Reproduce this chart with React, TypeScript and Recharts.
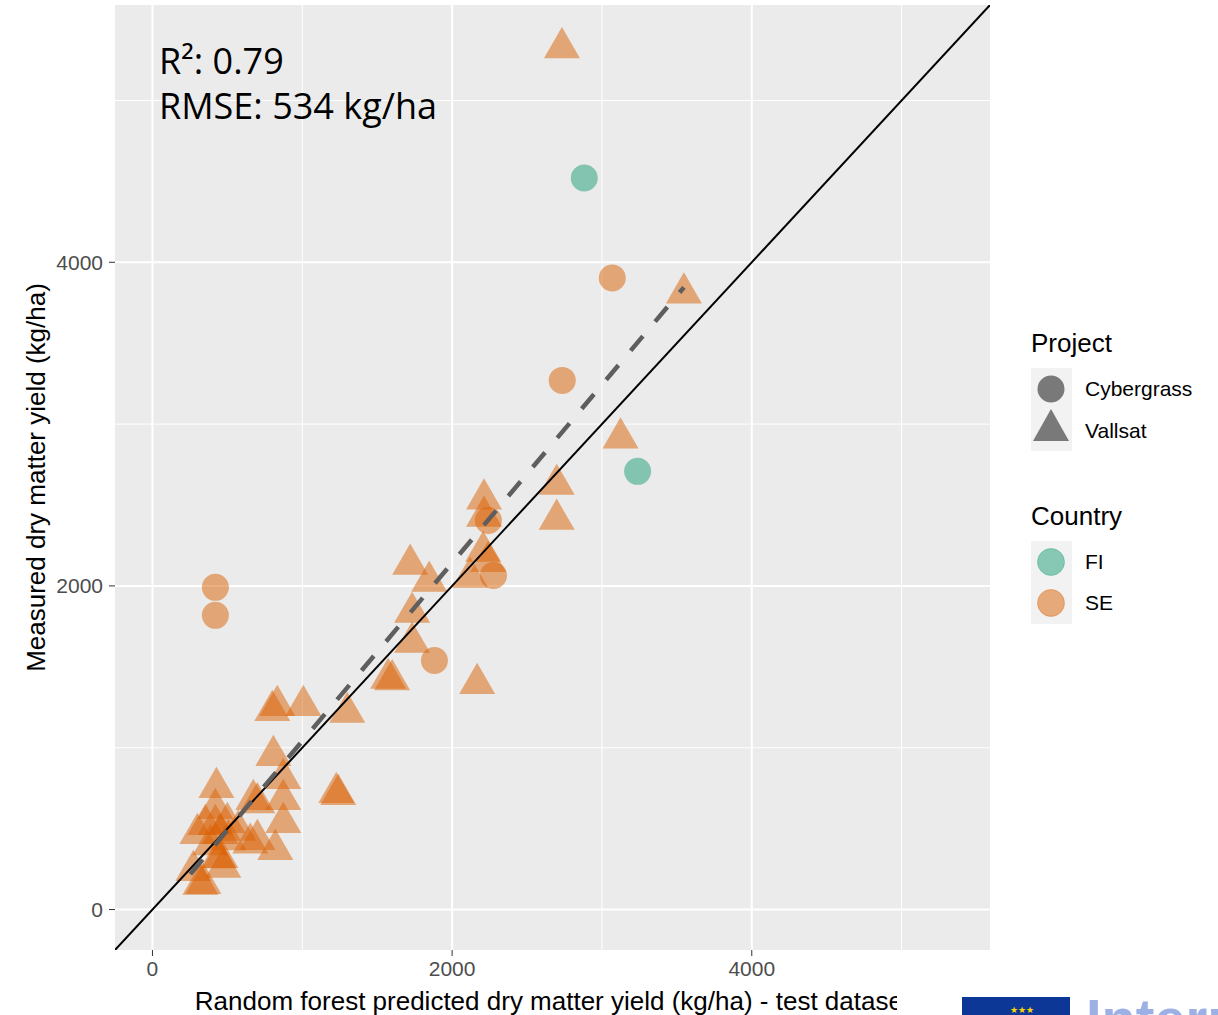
import React from 'react';
import { ScatterChart, Scatter, XAxis, YAxis, CartesianGrid } from 'recharts';

// Vallsat project, all SE (triangles)
const vallsatPred = [2733, 3547, 3124, 2698, 2698, 2213, 2213, 2207, 2240, 2120, 1720, 1847, 1733, 1733, 1573, 1600, 2167,
  800, 833, 1007, 1300, 807, 427, 420, 673, 700, 873, 873, 873, 1227, 1240, 353, 420, 500, 300, 453, 573, 273, 320, 340,
  453, 473, 700, 653, 820, 387, 440, 507];
const vallsatMeas = [5325, 3810, 2914, 2627, 2411, 2537, 2430, 2213, 2150, 2053, 2133, 2028, 1836, 1651, 1428, 1420, 1397,
  1230, 1261, 1261, 1218, 952, 754, 624, 680, 660, 810, 680, 538, 723, 710, 525, 525, 538, 470, 470, 490, 241, 155, 160,
  321, 260, 433, 410, 371, 400, 320, 430];

// Cybergrass project (circles)
const cyberSePred = [3069, 2735, 2276, 2242, 1882, 420, 420];
const cyberSeMeas = [3903, 3270, 2065, 2405, 1539, 1991, 1818];
const cyberFiPred = [2882, 3238];
const cyberFiMeas = [4521, 2708];

// lm fit ends and 1:1 line
const fitPred = [253, 3547];
const fitMeas = [219, 3845];
const axisLimits = [-250, 5590];

const majorBreaks = [0, 2000, 4000];
const minorBreaks = [1000, 3000, 5000];
const projectLabels = ['Cybergrass', 'Vallsat'];
const countryLabels = ['FI', 'SE'];
const statsLines = ['R²: 0.79', 'RMSE: 534 kg/ha'];

const SE_COLOR = '#D95F02';
const FI_COLOR = '#1B9E77';

const toPoints = (xs: number[], ys: number[]) => xs.map((x, i) => ({ x, y: ys[i] }));

const Triangle = (props: any) => {
  const { cx, cy, fill } = props;
  const pts = `${cx},${cy - 20.8} ${cx - 18},${cy + 10.4} ${cx + 18},${cy + 10.4}`;
  return <polygon points={pts} fill={fill} fillOpacity={0.5} />;
};

const Dot = (props: any) => {
  const { cx, cy, fill } = props;
  return <circle cx={cx} cy={cy} r={13.5} fill={fill} fillOpacity={0.5} />;
};

const NoMark = () => <g />;

const font = '"Liberation Sans", Arial, sans-serif';

export default function App() {
  return (
    <div style={{ position: 'absolute', left: 0, top: 0, width: 1218, height: 1015, background: '#fff', fontFamily: font }}>
      <ScatterChart width={1218} height={1015} margin={{ top: 5, right: 228, bottom: 0, left: 0 }}>
        <CartesianGrid fill="#EBEBEB" stroke="#fff" strokeWidth={1} verticalValues={minorBreaks} horizontalValues={minorBreaks} />
        <CartesianGrid stroke="#fff" strokeWidth={2} verticalValues={majorBreaks} horizontalValues={majorBreaks} />
        <XAxis
          type="number"
          dataKey="x"
          domain={axisLimits}
          ticks={majorBreaks}
          interval={0}
          allowDataOverflow
          axisLine={false}
          tickLine={{ stroke: '#333' }}
          tickSize={6}
          tickMargin={5}
          tick={{ fill: '#4D4D4D', fontSize: 21, fontFamily: font }}
          height={65}
          label={{ value: 'Random forest predicted dry matter yield (kg/ha) - test dataset', position: 'center', dy: 18, fill: '#000', fontSize: 26, fontFamily: font }}
        />
        <YAxis
          type="number"
          dataKey="y"
          domain={axisLimits}
          ticks={majorBreaks}
          interval={0}
          allowDataOverflow
          axisLine={false}
          tickLine={{ stroke: '#333' }}
          tickSize={6}
          tickMargin={6}
          tick={{ fill: '#4D4D4D', fontSize: 21, fontFamily: font }}
          width={115}
          label={{ value: 'Measured dry matter yield (kg/ha)', angle: -90, position: 'center', dx: -22, fill: '#000', fontSize: 26, fontFamily: font }}
        />
        <Scatter data={toPoints(vallsatPred, vallsatMeas)} fill={SE_COLOR} shape={Triangle} isAnimationActive={false} />
        <Scatter data={toPoints(cyberSePred, cyberSeMeas)} fill={SE_COLOR} shape={Dot} isAnimationActive={false} />
        <Scatter data={toPoints(cyberFiPred, cyberFiMeas)} fill={FI_COLOR} shape={Dot} isAnimationActive={false} />
        <Scatter
          data={toPoints(axisLimits, axisLimits)}
          line={{ stroke: '#000', strokeWidth: 2 }}
          lineType="joint"
          shape={NoMark}
          isAnimationActive={false}
        />
        <Scatter
          data={toPoints(fitPred, fitMeas)}
          line={{ stroke: '#5E5E5E', strokeWidth: 4.5, strokeDasharray: '19 19' }}
          lineType="joint"
          shape={NoMark}
          isAnimationActive={false}
        />
      </ScatterChart>

      <svg width={1218} height={1015} style={{ position: 'absolute', left: 0, top: 0, pointerEvents: 'none' }}>
        {/* stats annotation */}
        {statsLines.map((t, i) => (
          <text key={t} x={159} y={74 + i * 45} fontSize={36} fontFamily='"Open Sans", "Noto Sans", sans-serif' fill="#000">{t}</text>
        ))}

        {/* legends */}
        <text x={1031} y={352} fontSize={26} fontFamily={font}>Project</text>
        <rect x={1031} y={368} width={41} height={83} fill="#F2F2F2" />
        <circle cx={1051} cy={389} r={13.5} fill="#000" fillOpacity={0.5} />
        <polygon points="1051,409 1033,441 1069,441" fill="#000" fillOpacity={0.5} />
        {projectLabels.map((t, i) => (
          <text key={t} x={1085} y={389 + i * 42} dy="0.35em" fontSize={21} fontFamily={font}>{t}</text>
        ))}

        <text x={1031} y={525} fontSize={26} fontFamily={font}>Country</text>
        <rect x={1031} y={541} width={41} height={83} fill="#F2F2F2" />
        {countryLabels.map((t, i) => (
          <g key={t}>
            <circle cx={1051} cy={562 + i * 41} r={13.5} fill={i === 0 ? FI_COLOR : SE_COLOR} fillOpacity={0.5}
              stroke={i === 0 ? FI_COLOR : SE_COLOR} strokeOpacity={0.35} strokeWidth={1} />
            <text x={1085} y={562 + i * 41} dy="0.35em" fontSize={21} fontFamily={font}>{t}</text>
          </g>
        ))}

        {/* cropped footer logo */}
        <rect x={897} y={985} width={321} height={30} fill="#fff" />
        <rect x={962} y={997} width={108} height={18} fill="#0D3796" />
        <text x={1010} y={1013} fontSize={9} fill="#FFD800">★★★</text>
        <text x={1086} y={1038} fontSize={56} fontWeight="bold" fontFamily={font} fill="#9DB0E6">Interreg</text>
      </svg>
    </div>
  );
}
